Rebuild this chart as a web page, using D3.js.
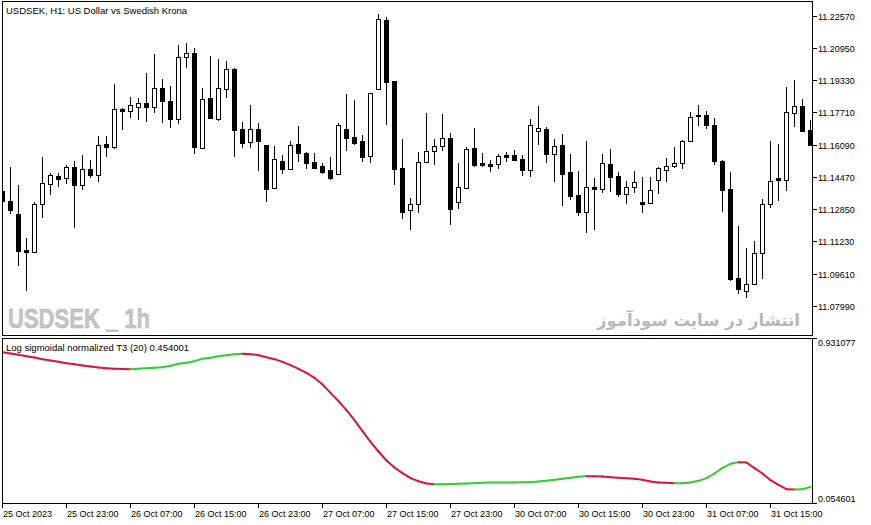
<!DOCTYPE html>
<html><head><meta charset="utf-8">
<script src="https://cdn.jsdelivr.net/npm/d3@7"></script>
<style>html,body{margin:0;padding:0;background:#fff;}svg{display:block;}</style>
</head><body>
<svg id="c" width="871" height="525"></svg>
<script>
// ---------- data ----------
const opens = [11.13767,11.13250,11.12612,11.10804,11.10719,11.13099,11.14103,11.14520,11.14405,11.14972,
 11.14083,11.14857,11.14586,11.16127,11.15962,11.17885,11.17800,11.18001,11.18171,11.17970,
 11.18925,11.18272,11.17398,11.20481,11.20682,11.15926,11.18422,11.17398,11.18904,11.19879,
 11.16866,11.16213,11.16866,11.16062,11.13893,11.15289,11.14887,11.16112,11.15690,11.15208,
 11.15022,11.14806,11.14606,11.16881,11.16479,11.16278,11.15510,11.18874,11.22355,11.19266,
 11.14907,11.12798,11.13099,11.15208,11.15761,11.16012,11.16414,11.13230,11.13933,11.15912,
 11.15173,11.15123,11.15108,11.15575,11.15560,11.15359,11.14806,11.16765,11.16881,11.15610,
 11.16062,11.14721,11.13566,11.12727,11.13953,11.13882,11.15123,11.14520,11.13631,11.13953,
 11.13199,11.13149,11.14304,11.14806,11.15007,11.15158,11.16263,11.17549,11.17584,11.17081,
 11.15289,11.13867,11.09383,11.08730,11.09081,11.10638,11.13129,11.14420,11.14334,11.17669,
 11.18036,11.16830];
const highs = [11.13867,11.14987,11.14068,11.11392,11.13199,11.15474,11.14656,11.14656,11.15073,11.15274,
 11.15575,11.15324,11.16529,11.16529,11.19141,11.17910,11.18488,11.18437,11.19693,11.20647,
 11.19392,11.19040,11.21099,11.21200,11.20933,11.18925,11.20547,11.20396,11.20296,11.19929,
 11.17232,11.18086,11.17182,11.16077,11.16027,11.15575,11.16278,11.17031,11.15726,11.15660,
 11.15158,11.15474,11.17167,11.18638,11.18337,11.16579,11.18689,11.22656,11.22520,11.19306,
 11.16378,11.13400,11.15726,11.17669,11.16363,11.17634,11.16665,11.15173,11.15962,11.16931,
 11.15660,11.15309,11.15625,11.15711,11.15826,11.15575,11.17368,11.18036,11.16956,11.16378,
 11.16630,11.15625,11.14771,11.16278,11.14420,11.15625,11.15876,11.14721,11.14269,11.14771,
 11.14470,11.14470,11.14957,11.15424,11.15977,11.16328,11.17734,11.18101,11.17770,11.17418,
 11.15324,11.14736,11.12024,11.10904,11.11241,11.13350,11.16278,11.16127,11.18990,11.19341,
 11.18372,11.17333];
const lows = [11.13215,11.12597,11.10016,11.08760,11.10704,11.12426,11.13581,11.13983,11.14119,11.11924,
 11.13817,11.14435,11.14219,11.15490,11.15876,11.16830,11.17418,11.17333,11.17247,11.17699,
 11.17197,11.16946,11.17147,11.19959,11.15640,11.15891,11.17368,11.17267,11.18453,11.15490,
 11.15942,11.15942,11.14786,11.13230,11.13867,11.14636,11.14837,11.15238,11.14887,11.14887,
 11.14636,11.14334,11.14570,11.15791,11.16092,11.15238,11.15188,11.18859,11.17097,11.14083,
 11.12376,11.11793,11.12677,11.15188,11.15088,11.15791,11.12059,11.12878,11.13918,11.14957,
 11.14987,11.14736,11.14887,11.15208,11.15274,11.14535,11.14470,11.16077,11.15188,11.14234,
 11.13029,11.13300,11.12527,11.11673,11.11808,11.13682,11.13717,11.13481,11.13129,11.13682,
 11.12677,11.13129,11.13631,11.14234,11.14937,11.14887,11.16248,11.17046,11.16896,11.15088,
 11.12727,11.09232,11.08610,11.08393,11.09066,11.09348,11.12928,11.13280,11.13782,11.16996,
 11.16730,11.16077];
const closes = [11.13280,11.12798,11.10769,11.10719,11.13114,11.14154,11.14555,11.14385,11.14972,11.14083,
 11.14872,11.14586,11.16062,11.15992,11.17870,11.17800,11.18071,11.18171,11.18001,11.18925,
 11.18302,11.17398,11.20481,11.20682,11.15992,11.18372,11.17418,11.18925,11.19879,11.16845,
 11.16193,11.16866,11.16293,11.13882,11.15359,11.14887,11.16062,11.15690,11.15188,11.14937,
 11.14736,11.14435,11.17066,11.16444,11.16193,11.15490,11.18673,11.22405,11.19256,11.14887,
 11.12727,11.13099,11.15208,11.15761,11.16012,11.16414,11.12878,11.13953,11.15861,11.15088,
 11.15088,11.15038,11.15510,11.15490,11.15324,11.14837,11.17066,11.16916,11.15640,11.16012,
 11.14636,11.13531,11.12727,11.13953,11.13867,11.15173,11.14470,11.13631,11.13953,11.14204,
 11.13114,11.13817,11.14907,11.15007,11.15158,11.16278,11.17468,11.17584,11.17066,11.15289,
 11.13832,11.09332,11.08845,11.09081,11.10638,11.13099,11.14254,11.14334,11.17719,11.18021,
 11.16780,11.16092];
const t3Values = [0.8585,0.8514,0.8443,0.8372,0.8302,0.8213,0.8142,0.8071,0.8000,0.7947,
 0.7877,0.7823,0.7770,0.7735,0.7700,0.7685,0.7675,0.7700,0.7735,0.7753,
 0.7788,0.7859,0.7965,0.8018,0.8107,0.8231,0.8284,0.8372,0.8425,0.8478,
 0.8496,0.8478,0.8425,0.8319,0.8213,0.8071,0.7894,0.7700,0.7487,0.7222,
 0.6867,0.6425,0.5982,0.5504,0.4973,0.4388,0.3822,0.3308,0.2830,0.2458,
 0.2157,0.1892,0.1732,0.1608,0.1570,0.1575,0.1580,0.1591,0.1608,0.1626,
 0.1644,0.1655,0.1662,0.1665,0.1668,0.1672,0.1679,0.1715,0.1750,0.1803,
 0.1856,0.1910,0.1963,0.2000,0.1995,0.1975,0.1945,0.1910,0.1892,0.1856,
 0.1803,0.1715,0.1662,0.1644,0.1620,0.1626,0.1662,0.1750,0.1892,0.2140,
 0.2441,0.2653,0.2742,0.2724,0.2423,0.2140,0.1785,0.1538,0.1307,0.1285,
 0.1307,0.1431];
const priceTicks = [11.22570,11.20950,11.19330,11.17710,11.16090,11.14470,11.12850,11.11230,11.09610,11.07990];
const timeTickIdx = [0,8,16,24,32,40,48,56,64,72,80,88,96];
const timeTickLabels = ["25 Oct 2023","25 Oct 23:00","26 Oct 07:00","26 Oct 15:00","26 Oct 23:00","27 Oct 07:00",
 "27 Oct 15:00","27 Oct 23:00","30 Oct 07:00","30 Oct 15:00","30 Oct 23:00","31 Oct 07:00","31 Oct 15:00"];
const indMin = 0.054601, indMax = 0.931077;
const titleText = "USDSEK, H1:  US Dollar vs Swedish Krona";
const indText = "Log sigmoidal normalized T3 (20) 0.454001";

// ---------- layout ----------
const L = 2.5, R = 812.5;
const top0 = 1.5, top1 = 336, ind0 = 338.5, ind1 = 503.5;
const FONT = "'Liberation Sans', Arial, sans-serif";

const svg = d3.select("#c");
svg.append("rect").attr("width",871).attr("height",525).attr("fill","#fff");

const x = d3.scaleLinear().domain([0,101]).range([2.5,810.5]);
const y = d3.scaleLinear().domain([11.07990,11.22570]).range([306,15.7]);
const yi = d3.scaleLinear().domain([indMin,indMax]).range([ind1,ind0]);

const defs = svg.append("defs");
defs.append("clipPath").attr("id","cpTop").append("rect").attr("x",L).attr("y",top0).attr("width",R-L).attr("height",top1-top0);
defs.append("clipPath").attr("id","cpInd").append("rect").attr("x",L).attr("y",ind0).attr("width",R-L).attr("height",ind1-ind0);

// watermarks
svg.append("text").attr("x",8).attr("y",328).attr("font-family",FONT).attr("font-weight","bold")
  .attr("font-size",28).attr("fill","#c6c6c6").attr("stroke","#b0b0b0").attr("stroke-width",0.5)
  .attr("textLength",142).attr("lengthAdjust","spacingAndGlyphs").text("USDSEK _ 1h");
svg.append("text").attr("x",800).attr("y",326).attr("text-anchor","end")
  .attr("font-family","'DejaVu Sans', sans-serif").attr("font-weight","bold")
  .attr("font-size",16.5).attr("fill","#b8b8b8").text("انتشار در سایت سودآموز");

// candles
const data = opens.map((o,i)=>({i,o,h:highs[i],l:lows[i],c:closes[i]}));
const gC = svg.append("g").attr("clip-path","url(#cpTop)").attr("shape-rendering","crispEdges");
gC.selectAll("line.w").data(data).join("line")
  .attr("x1",d=>x(d.i)).attr("x2",d=>x(d.i))
  .attr("y1",d=>Math.round(y(d.h))).attr("y2",d=>Math.round(y(d.l)))
  .attr("stroke","#000").attr("stroke-width",1);
gC.selectAll("rect.b").data(data).join("rect")
  .attr("x",d=>x(d.i)-2).attr("width",4)
  .attr("y",d=>Math.round(y(Math.max(d.o,d.c)))+0.5)
  .attr("height",d=>Math.max(0,Math.round(y(Math.min(d.o,d.c)))-Math.round(y(Math.max(d.o,d.c)))))
  .attr("fill",d=>d.c>=d.o?"#fff":"#000").attr("stroke","#000").attr("stroke-width",1);

// indicator line
const gI = svg.append("g").attr("clip-path","url(#cpInd)");
const segs = t3Values.slice(1).map((v,k)=>({a:t3Values[k],b:v,i:k}));
gI.selectAll("line.s").data(segs).join("line")
  .attr("x1",d=>x(d.i)).attr("x2",d=>x(d.i+1))
  .attr("y1",d=>yi(d.a)).attr("y2",d=>yi(d.b))
  .attr("stroke",d=>d.b>=d.a?"#32CD32":"#DC143C").attr("stroke-width",2).attr("stroke-linecap","round");

// frames
const gF = svg.append("g").attr("shape-rendering","crispEdges").attr("fill","none").attr("stroke","#000");
gF.append("rect").attr("x",L).attr("y",top0).attr("width",R-L).attr("height",top1-top0-0.5);
gF.append("rect").attr("x",L).attr("y",ind0).attr("width",R-L).attr("height",ind1-ind0);

// price axis
const gP = svg.append("g").attr("font-family",FONT).attr("font-size",9);
priceTicks.forEach(p=>{
  const yy = Math.round(y(p))+0.5;
  gP.append("line").attr("x1",R).attr("x2",R+4).attr("y1",yy).attr("y2",yy).attr("stroke","#000").attr("shape-rendering","crispEdges");
  gP.append("text").attr("x",R+5.5).attr("y",yy+3.2).attr("fill","#000").text(p.toFixed(5));
});
// indicator axis
[[indMax,ind0,ind0+4.5],[indMin,ind1,ind1-5]].forEach(([v,ty,ly])=>{
  gP.append("line").attr("x1",R).attr("x2",R+4).attr("y1",ty).attr("y2",ty).attr("stroke","#000").attr("shape-rendering","crispEdges");
  gP.append("text").attr("x",R+5.5).attr("y",ly+3.2).attr("fill","#000").text(v.toFixed(6));
});
// time axis
timeTickIdx.forEach((k,j)=>{
  const xx = x(k);
  gP.append("line").attr("x1",xx).attr("x2",xx).attr("y1",ind1).attr("y2",ind1+4).attr("stroke","#000").attr("shape-rendering","crispEdges");
  gP.append("text").attr("x",xx+0.5).attr("y",517).attr("fill","#000").text(timeTickLabels[j]);
});

// titles
svg.append("text").attr("x",6).attr("y",14).attr("font-family",FONT).attr("font-size",9.5).attr("fill","#000").text(titleText);
svg.append("text").attr("x",6).attr("y",350.5).attr("font-family",FONT).attr("font-size",9.5).attr("fill","#000").text(indText);
</script>
</body></html>
